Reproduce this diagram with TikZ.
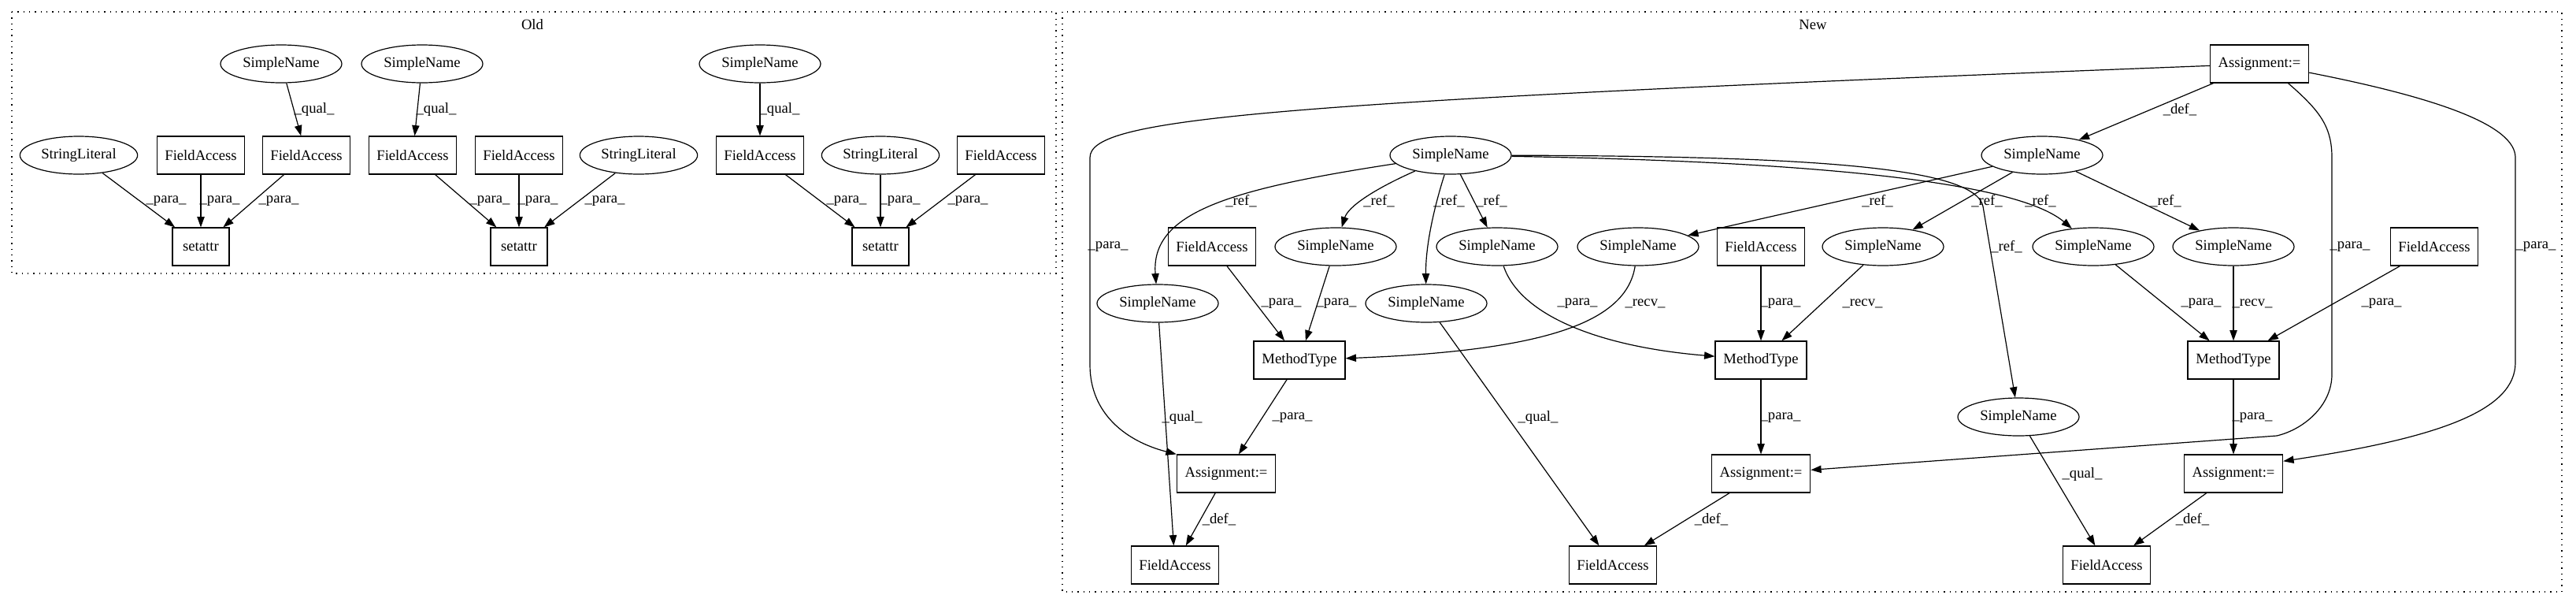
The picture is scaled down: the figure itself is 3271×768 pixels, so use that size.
\documentclass[tikz,border=0pt]{standalone}
\usepackage{fontspec}
\setmainfont{Liberation Serif}
\usetikzlibrary{arrows.meta,shapes.geometric,calc}
\begin{document}
\begin{tikzpicture}[x=0.75pt,y=-0.75pt,
  font=\fontsize{14pt}{16pt}\selectfont,
  ell/.style={draw,ellipse,line width=0.9pt,inner sep=0pt,minimum width=115.5pt,minimum height=36pt},
  sl/.style={ell,minimum width=112pt},
  fa/.style={draw,rectangle,line width=0.9pt,inner sep=0pt,minimum width=83pt,minimum height=36pt},
  mt/.style={fa,minimum width=87pt},
  asg/.style={fa,minimum width=94pt},
  sa/.style={fa,minimum width=54pt},
  lbl/.style={inner sep=0pt},
  arr/.style={line width=0.9pt,-{Triangle[length=10pt,width=7pt]}},
  cluster/.style={draw,line width=1pt,dash pattern=on 1pt off 4.5pt},
]
\fill[white] (0,0) rectangle (3271,768);
\useasboundingbox (0,0) rectangle (3271,768);

% clusters
\draw[cluster] (15,15) rectangle (1341,347);
\draw[cluster] (1349,15) rectangle (3253,751);
\node[lbl] (oldt) at (676,31) {Old};
\node[lbl] (newt) at (2302,31) {New};

% ---------- Old ----------
\node[ell] (osn1) at (357,81) {SimpleName};
\node[ell] (osn2) at (536,81) {SimpleName};
\node[ell] (osn3) at (965,81) {SimpleName};
\node[sl]  (osl1) at (100,197) {StringLiteral};
\node[fa]  (ofa1) at (255,197) {FieldAccess};
\node[fa]  (ofa2) at (389,197) {FieldAccess};
\node[fa]  (ofa3) at (524,197) {FieldAccess};
\node[fa]  (ofa4) at (659,197) {FieldAccess};
\node[sl]  (osl2) at (811,197) {StringLiteral};
\node[fa]  (ofa5) at (965,197) {FieldAccess};
\node[sl]  (osl3) at (1118,197) {StringLiteral};
\node[fa]  (ofa6) at (1271,197) {FieldAccess};
\node[sa]  (osa1) at (255,313) {setattr};
\node[sa]  (osa2) at (659,313) {setattr};
\node[sa]  (osa3) at (1118,313) {setattr};

\draw[arr] (osn1) -- (ofa2);
\draw[arr] (osn2) -- (ofa3);
\draw[arr] (osn3) -- (ofa5);
\draw[arr] (osl1) -- (osa1);
\draw[arr] (ofa1) -- (osa1);
\draw[arr] (ofa2) -- (osa1);
\draw[arr] (ofa3) -- (osa2);
\draw[arr] (ofa4) -- (osa2);
\draw[arr] (osl2) -- (osa2);
\draw[arr] (ofa5) -- (osa3);
\draw[arr] (osl3) -- (osa3);
\draw[arr] (ofa6) -- (osa3);

\node[lbl] (ol1) at (399,139) {\_qual\_};
\node[lbl] (ol2) at (554,139) {\_qual\_};
\node[lbl] (ol3) at (990,139) {\_qual\_};
\node[lbl] (ol4) at (211,255) {\_para\_};
\node[lbl] (ol5) at (279,255) {\_para\_};
\node[lbl] (ol6) at (354,255) {\_para\_};
\node[lbl] (ol7) at (622,255) {\_para\_};
\node[lbl] (ol8) at (683,255) {\_para\_};
\node[lbl] (ol9) at (768,255) {\_para\_};
\node[lbl] (ol10) at (1075,255) {\_para\_};
\node[lbl] (ol11) at (1143,255) {\_para\_};
\node[lbl] (ol12) at (1229,255) {\_para\_};

% ---------- New ----------
\node[asg] (at)  at (2869,81) {Assignment:=};
\node[ell] (hub) at (1842,197) {SimpleName};
\node[ell] (snd) at (2593,197) {SimpleName};
\node[fa]  (nfa1) at (1539,313) {FieldAccess};
\node[ell] (sn1) at (1696,313) {SimpleName};
\node[ell] (sn2) at (1901,313) {SimpleName};
\node[ell] (sn3) at (2080,313) {SimpleName};
\node[fa]  (nfa2) at (2236,313) {FieldAccess};
\node[ell] (sna) at (2391,313) {SimpleName};
\node[ell] (snb) at (2658,313) {SimpleName};
\node[ell] (snc) at (2836,313) {SimpleName};
\node[fa]  (nfar) at (3091,313) {FieldAccess};
\node[ell] (sn4) at (1470,385) {SimpleName};
\node[ell] (sn5) at (1811,385) {SimpleName};
\node[ell] (sn6) at (2563,529) {SimpleName};
\node[mt]  (mt1) at (1650,457) {MethodType};
\node[mt]  (mt2) at (2236,457) {MethodType};
\node[mt]  (mt3) at (2836,457) {MethodType};
\node[asg] (a1) at (1557,601) {Assignment:=};
\node[asg] (a2) at (2236,601) {Assignment:=};
\node[asg] (a3) at (2836,601) {Assignment:=};
\node[fa]  (fb1) at (1492,717) {FieldAccess};
\node[fa]  (fb2) at (2048,717) {FieldAccess};
\node[fa]  (fb3) at (2675,717) {FieldAccess};

% from top assignment
\draw[arr] (at) -- (snd);
\draw[arr] (at) .. controls (1600,130) and (1384,150) .. (1384,200) -- (1384,463)
  .. controls (1384,525) and (1430,560) .. (a1.north west);
\draw[arr] (at.-34) .. controls (2945,140) and (2961,160) .. (2961,200) -- (2961,475)
  .. controls (2961,515) and (2925,545) .. (2891,553) -- (a2);
\draw[arr] (at.-10) .. controls (3100,125) and (3194,160) .. (3194,200) -- (3194,460)
  .. controls (3194,520) and (3100,555) .. (a3.14);

% hub refs
\draw[arr] (hub) .. controls (1560,240) and (1461,270) .. (sn4);
\draw[arr] (hub) .. controls (1745,240) and (1712,262) .. (sn1);
\draw[arr] (hub) .. controls (1822,260) and (1810,310) .. (sn5);
\draw[arr] (hub) -- (sn2);
\draw[arr] (hub) .. controls (2300,205) and (2560,230) .. (snb);
\draw[arr] (hub) .. controls (2300,198) and (2508,212) .. (2518,262) -- (sn6);

% snd refs
\draw[arr] (snd) -- (sn3);
\draw[arr] (snd) -- (sna);
\draw[arr] (snd) -- (snc);

% to method types
\draw[arr] (nfa1) -- (mt1);
\draw[arr] (sn1) -- (mt1);
\draw[arr] (sn3) .. controls (2065,410) and (1960,445) .. (mt1);
\draw[arr] (sn2) .. controls (1930,400) and (2030,440) .. (mt2);
\draw[arr] (nfa2) -- (mt2);
\draw[arr] (sna) -- (mt2);
\draw[arr] (snb) -- (mt3);
\draw[arr] (snc) -- (mt3);
\draw[arr] (nfar) -- (mt3);

% to assignments
\draw[arr] (mt1) -- (a1);
\draw[arr] (mt2) -- (a2);
\draw[arr] (mt3) -- (a3);

% defs and quals
\draw[arr] (a1) -- (fb1);
\draw[arr] (a2) -- (fb2);
\draw[arr] (a3) -- (fb3);
\draw[arr] (sn4) -- (fb1);
\draw[arr] (sn5) -- (fb2);
\draw[arr] (sn6) -- (fb3);

% labels New
\node[lbl] (nl1) at (2768,139) {\_def\_};
\node[lbl] (nl2) at (1407,313) {\_para\_};
\node[lbl] (nl3) at (2984,313) {\_para\_};
\node[lbl] (nl4) at (3220,313) {\_para\_};
\node[lbl] (nl5) at (1576,255) {\_ref\_};
\node[lbl] (nl6) at (1751,255) {\_ref\_};
\node[lbl] (nl7) at (1840,255) {\_ref\_};
\node[lbl] (nl8) at (1894,255) {\_ref\_};
\node[lbl] (nl9) at (2384,255) {\_ref\_};
\node[lbl] (nl10) at (2523,255) {\_ref\_};
\node[lbl] (nl11) at (2591,255) {\_ref\_};
\node[lbl] (nl12) at (2750,255) {\_ref\_};
\node[lbl] (nl13) at (2548,313) {\_ref\_};
\node[lbl] (nl14) at (1627,385) {\_para\_};
\node[lbl] (nl15) at (1697,385) {\_para\_};
\node[lbl] (nl16) at (2003,385) {\_para\_};
\node[lbl] (nl17) at (2089,385) {\_recv\_};
\node[lbl] (nl18) at (2261,385) {\_para\_};
\node[lbl] (nl19) at (2365,385) {\_recv\_};
\node[lbl] (nl20) at (2795,385) {\_para\_};
\node[lbl] (nl21) at (2860,385) {\_recv\_};
\node[lbl] (nl22) at (3024,385) {\_para\_};
\node[lbl] (nl23) at (1641,530) {\_para\_};
\node[lbl] (nl24) at (2261,530) {\_para\_};
\node[lbl] (nl25) at (2860,530) {\_para\_};
\node[lbl] (nl26) at (1501,530) {\_qual\_};
\node[lbl] (nl27) at (1953,530) {\_qual\_};
\node[lbl] (nl28) at (2644,602) {\_qual\_};
\node[lbl] (nl29) at (1548,659) {\_def\_};
\node[lbl] (nl30) at (2173,659) {\_def\_};
\node[lbl] (nl31) at (2784,659) {\_def\_};
\end{tikzpicture}
\end{document}
